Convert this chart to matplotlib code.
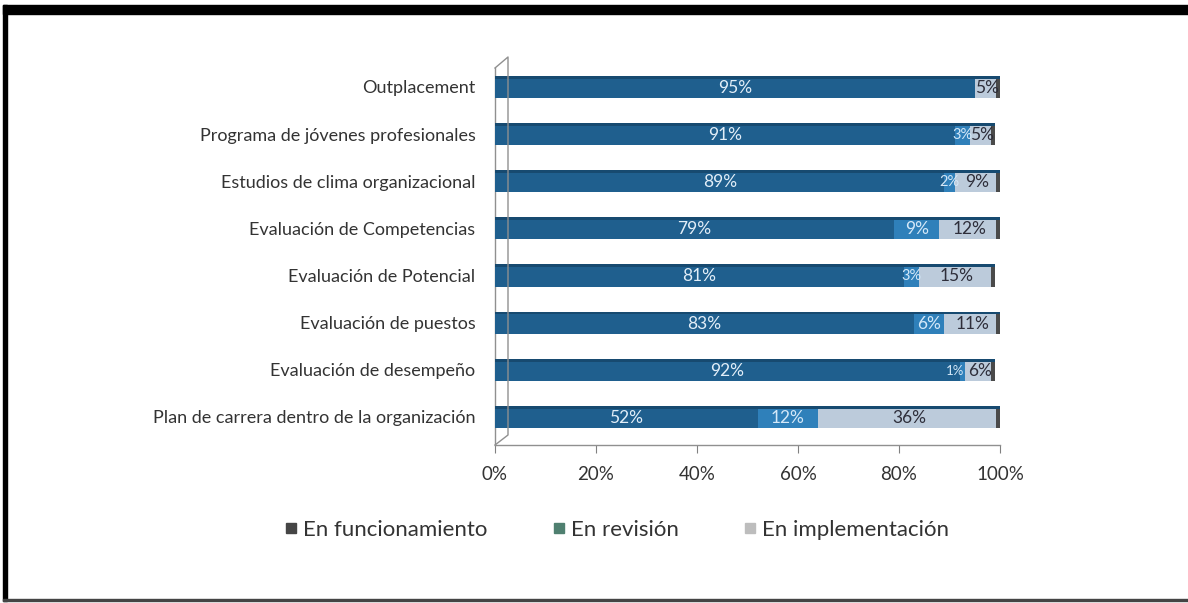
import matplotlib
matplotlib.use("Agg")
import matplotlib.pyplot as plt
from matplotlib.lines import Line2D
from matplotlib.patches import Rectangle
import numpy as np

# ------------------------------------------------------------
# Datos (% de empresas por práctica de RR.HH.)
# ------------------------------------------------------------
practicas = [
    "Plan de carrera dentro de la organización",
    "Evaluación de desempeño",
    "Evaluación de puestos",
    "Evaluación de Potencial",
    "Evaluación de Competencias",
    "Estudios de clima organizacional",
    "Programa de jóvenes profesionales",
    "Outplacement",
]
en_funcionamiento = [52, 92, 83, 81, 79, 89, 91, 95]
en_revision = [12, 1, 6, 3, 9, 2, 3, 0]
en_implementacion = [36, 6, 11, 15, 12, 9, 5, 5]

series_nombres = ["En funcionamiento", "En revisión", "En implementación"]
ticks_x = [0, 20, 40, 60, 80, 100]

# colores
c_func = "#1f5f8e"
c_rev = "#2f80ba"
c_impl = "#bccbdb"
c_cap = "#4a4a4a"
leyenda_colores = ["#454545", "#4f8070", "#bdbdbd"]

plt.rcParams["font.family"] = ["Lato", "DejaVu Sans"]

fig = plt.figure(figsize=(11.88, 6.03), dpi=100)
W, H = 1188, 603

ax_left, ax_right = 495, 1000
ax_top, ax_bottom = 68, 445
ax = fig.add_axes([ax_left / W, 1 - ax_bottom / H,
                   (ax_right - ax_left) / W, (ax_bottom - ax_top) / H])

y = np.arange(len(practicas))
func = np.array(en_funcionamiento)
rev = np.array(en_revision)
impl = np.array(en_implementacion)
alto = 0.47

ax.barh(y, func, height=alto, color=c_func, edgecolor="none", zorder=3)
ax.barh(y, rev, left=func, height=alto, color=c_rev, edgecolor="none", zorder=3)
ax.barh(y, impl, left=func + rev, height=alto, color=c_impl, edgecolor="none", zorder=3)
# tapa oscura al final de cada barra (efecto 3D)
total = func + rev + impl
ax.barh(y, 0.7, left=total - 0.7, height=alto, color=c_cap, edgecolor="none", zorder=4)
# borde superior de las barras
ax.barh(y + alto / 2 - 0.03, total, height=0.06, color="#174a70", edgecolor="none", zorder=4)

# etiquetas de porcentaje (las de segmentos muy cortos, más pequeñas)
for i in range(len(practicas)):
    segs = [(0, func[i], "#e2eef8"), (func[i], rev[i], "#d4e8f8"),
            (func[i] + rev[i], impl[i], "#2e2e3a")]
    for izq, ancho, col in segs:
        if ancho <= 0:
            continue
        if ancho < 2:
            ax.text(izq + ancho, y[i] - 0.02, f"{ancho}%", ha="right", va="center",
                    fontsize=9.5, color=col, zorder=5)
            continue
        fs = 10.5 if ancho < 4 else 12.5
        ax.text(izq + ancho / 2, y[i] - 0.02, f"{ancho}%", ha="center", va="center",
                fontsize=fs, color=col, zorder=5)

ax.set_xlim(0, 100)
ax.set_ylim(-0.594, 7.40)
ax.set_yticks(y)
ax.set_yticklabels(practicas, fontsize=13, color="#333333")
ax.set_xticks(ticks_x)
ax.set_xticklabels([f"{t}%" for t in ticks_x], fontsize=13.5, color="#333333")
ax.tick_params(axis="y", length=0, pad=14)
ax.tick_params(axis="x", length=6, direction="out", color="#808080", pad=9)

for s in ["top", "right"]:
    ax.spines[s].set_visible(False)
ax.spines["left"].set_color("#909090")
ax.spines["bottom"].set_color("#909090")
ax.spines["left"].set_linewidth(1.0)
ax.spines["bottom"].set_linewidth(1.0)

# pared lateral en perspectiva
dx, dy = 13, 11
pared = Line2D([ax_left / W, (ax_left + dx) / W, (ax_left + dx) / W, ax_left / W],
               [1 - ax_top / H, 1 - (ax_top - dy) / H, 1 - (ax_bottom - 10) / H, 1 - ax_bottom / H],
               transform=fig.transFigure, color="#909090", lw=1.0)
fig.add_artist(pared)

# leyenda
handles = [Line2D([], [], marker="s", linestyle="none", markersize=7,
                  markerfacecolor=c, markeredgecolor=c) for c in leyenda_colores]
fig.legend(handles, series_nombres, loc="center", bbox_to_anchor=(617 / W, 1 - 530 / H),
           ncol=3, frameon=False, fontsize=16, handlelength=0.6, handletextpad=0.25,
           columnspacing=2.9, labelcolor="#333333")

# marco
fig.add_artist(Rectangle((3 / W, 1 - 14 / H), 1 - 3 / W, 9 / H,
                         transform=fig.transFigure, color="black", zorder=10))
fig.add_artist(Rectangle((3 / W, 1 - 601 / H), 4 / W, 596 / H,
                         transform=fig.transFigure, color="black", zorder=10))
fig.add_artist(Rectangle((3 / W, 1 - 601 / H), 1 - 3 / W, 2 / H,
                         transform=fig.transFigure, color="#444444", zorder=10))

fig.savefig("out.png", dpi=100)
